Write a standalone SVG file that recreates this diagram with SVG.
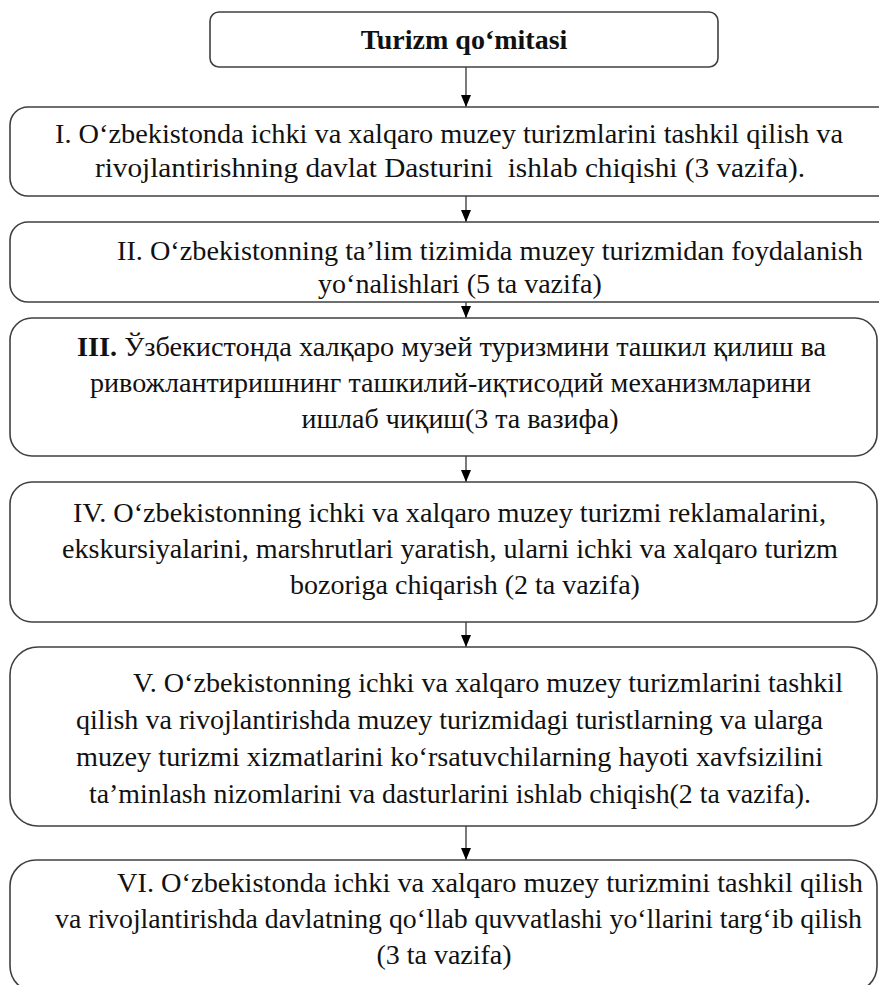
<svg xmlns="http://www.w3.org/2000/svg" width="879" height="985" viewBox="0 0 879 985">
<defs>
<marker id="ah" markerWidth="12" markerHeight="10" refX="12" refY="5" orient="auto" markerUnits="userSpaceOnUse" viewBox="0 0 12 10">
<path d="M0,0 L12,5 L0,10 Z" fill="#000"/>
</marker>
</defs>
<style>
.box{fill:#fff;stroke:#404040;stroke-width:1.6}
.t{font-family:"Liberation Serif","Times New Roman",serif;font-size:28px;fill:#111}
.c{text-anchor:middle}
.conn{stroke:#333;stroke-width:1.3;fill:none}
</style>
<rect width="879" height="985" fill="#fff"/>
<g id="connectors">
<line class="conn" x1="466" y1="67" x2="466" y2="107" marker-end="url(#ah)"/>
<line class="conn" x1="466" y1="196" x2="466" y2="222" marker-end="url(#ah)"/>
<line class="conn" x1="466" y1="302" x2="466" y2="318" marker-end="url(#ah)"/>
<line class="conn" x1="466" y1="456" x2="466" y2="482" marker-end="url(#ah)"/>
<line class="conn" x1="466" y1="622" x2="466" y2="647" marker-end="url(#ah)"/>
<line class="conn" x1="466" y1="826" x2="466" y2="860" marker-end="url(#ah)"/>
</g>
<g id="n0">
<rect class="box" x="210" y="12" width="508" height="55" rx="9"/>
<text class="t c" x="464" y="49" font-weight="bold" font-size="26">Turizm qo‘mitasi</text>
</g>
<g id="n1">
<rect class="box" x="10" y="107" width="890" height="89" rx="18"/>
<text class="t" x="55" y="143" textLength="788" lengthAdjust="spacingAndGlyphs">I. O‘zbekistonda ichki va xalqaro muzey turizmlarini tashkil qilish va</text>
<text class="t" x="95" y="177" textLength="710" lengthAdjust="spacingAndGlyphs" xml:space="preserve">rivojlantirishning davlat Dasturini  ishlab chiqishi (3 vazifa).</text>
</g>
<g id="n2">
<rect class="box" x="10" y="222" width="890" height="80" rx="18"/>
<text class="t" x="117" y="260" textLength="746" lengthAdjust="spacingAndGlyphs">II. O‘zbekistonning ta’lim tizimida muzey turizmidan foydalanish</text>
<text class="t c" x="460" y="293">yo‘nalishlari (5 ta vazifa)</text>
</g>
<g id="n3">
<rect class="box" x="10" y="318" width="867" height="138" rx="22"/>
<text class="t" x="77" y="356" textLength="749" lengthAdjust="spacingAndGlyphs"><tspan font-weight="bold">III.</tspan> Ўзбекистонда халқаро музей туризмини ташкил қилиш ва</text>
<text class="t" x="90" y="392" textLength="721" lengthAdjust="spacingAndGlyphs">ривожлантиришнинг ташкилий-иқтисодий механизмларини</text>
<text class="t c" x="460" y="428">ишлаб чиқиш(3 та вазифа)</text>
</g>
<g id="n4">
<rect class="box" x="10" y="482" width="867" height="140" rx="22"/>
<text class="t" x="73" y="522" textLength="753" lengthAdjust="spacingAndGlyphs">IV. O‘zbekistonning ichki va xalqaro muzey turizmi reklamalarini,</text>
<text class="t" x="62" y="558" textLength="776" lengthAdjust="spacingAndGlyphs">ekskursiyalarini, marshrutlari yaratish, ularni ichki va xalqaro turizm</text>
<text class="t c" x="465" y="594">bozoriga chiqarish (2 ta vazifa)</text>
</g>
<g id="n5">
<rect class="box" x="10" y="647" width="867" height="179" rx="28"/>
<text class="t" x="133" y="692" textLength="710" lengthAdjust="spacingAndGlyphs">V. O‘zbekistonning ichki va xalqaro muzey turizmlarini tashkil</text>
<text class="t" x="76" y="729" textLength="747" lengthAdjust="spacingAndGlyphs">qilish va rivojlantirishda muzey turizmidagi turistlarning va ularga</text>
<text class="t" x="76" y="766" textLength="747" lengthAdjust="spacingAndGlyphs">muzey turizmi xizmatlarini ko‘rsatuvchilarning hayoti xavfsizilini</text>
<text class="t" x="89" y="803" textLength="722" lengthAdjust="spacingAndGlyphs">ta’minlash nizomlarini va dasturlarini ishlab chiqish(2 ta vazifa).</text>
</g>
<g id="n6">
<rect class="box" x="10" y="860" width="867" height="132" rx="26"/>
<text class="t" x="117" y="892" textLength="746" lengthAdjust="spacingAndGlyphs">VI. O‘zbekistonda ichki va xalqaro muzey turizmini tashkil qilish</text>
<text class="t" x="55" y="928" textLength="807" lengthAdjust="spacingAndGlyphs">va rivojlantirishda davlatning qo‘llab quvvatlashi yo‘llarini targ‘ib qilish</text>
<text class="t c" x="444" y="964">(3 ta vazifa)</text>
</g>
</svg>
